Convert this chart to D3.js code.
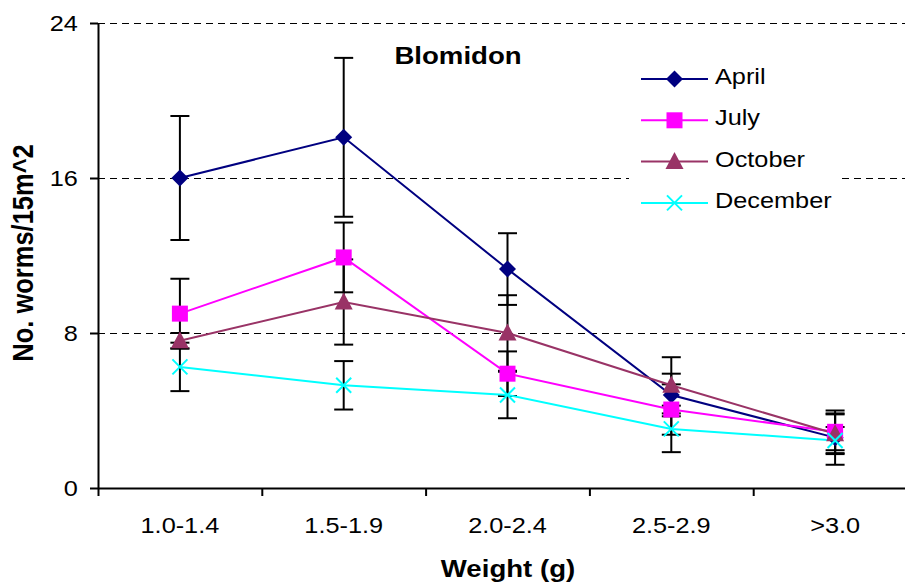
<!DOCTYPE html>
<html>
<head>
<meta charset="utf-8">
<script src="https://cdn.jsdelivr.net/npm/d3@7"></script>
<style>
  body { margin: 0; background: #fff; }
  svg { display: block; font-family: Arial, 'Liberation Sans', sans-serif; }
  .domain, .tick line { stroke: #000; stroke-width: 2; }
</style>
</head>
<body>
<svg width="905" height="588"></svg>
<script>
const svg = d3.select('svg');

const categories = ['1.0-1.4', '1.5-1.9', '2.0-2.4', '2.5-2.9', '>3.0'];
const yTicks = [0, 8, 16, 24];

const april = [16.0, 18.1, 11.3, 4.8, 2.6];
const aprilErr = [3.2, 4.1, 1.85, 1.1, 1.4];
const july = [9.0, 11.9, 5.9, 4.05, 2.9];
const julyErr = [1.8, 1.8, 1.15, 1.3, 0.95];
const october = [7.6, 9.6, 8.0, 5.3, 2.8];
const octoberErr = [0.4, 2.2, 1.95, 1.45, 1.0];
const december = [6.25, 5.3, 4.8, 3.05, 2.45];
const decemberErr = [1.25, 1.25, 1.2, 1.2, 0.7];

const series = [
  { name: 'April', values: april, err: aprilErr, color: '#000080', shape: 'diamond' },
  { name: 'July', values: july, err: julyErr, color: '#ff00ff', shape: 'square' },
  { name: 'October', values: october, err: octoberErr, color: '#993366', shape: 'triangle' },
  { name: 'December', values: december, err: decemberErr, color: '#00ffff', shape: 'cross' }
];

const plotLeft = 98, plotRight = 917, plotTop = 23, plotBottom = 488;
// the original text is a little wider than Arial, stretch it sideways
const stretch = 1.15;

const xScale = d3.scaleBand().domain(categories).range([plotLeft, plotRight]);
const xEdge = d3.scaleLinear().domain([0, categories.length]).range([plotLeft, plotRight]);
const yScale = d3.scaleLinear().domain([0, 24]).range([plotBottom, plotTop]);
const xc = i => xScale(categories[i]) + xScale.bandwidth() / 2;

// gridlines
svg.append('g').selectAll('line').data(yTicks.filter(d => d > 0)).enter().append('line')
  .attr('x1', plotLeft).attr('x2', plotRight)
  .attr('y1', d => yScale(d) + 0.5).attr('y2', d => yScale(d) + 0.5)
  .attr('stroke', '#000').attr('stroke-width', 1).attr('stroke-dasharray', '7,5')
  .attr('shape-rendering', 'crispEdges');

// y axis
const yAxisG = svg.append('g').attr('transform', `translate(${plotLeft},0)`)
  .call(d3.axisLeft(yScale).tickValues(yTicks).tickSize(8).tickPadding(9.5).tickSizeOuter(0));
yAxisG.selectAll('text').attr('font-size', 22).attr('fill', '#000')
  .attr('transform', `scale(${stretch},1)`);

// x axis: boundary ticks + centered labels
svg.append('g').attr('transform', `translate(0,${plotBottom})`)
  .call(d3.axisBottom(xEdge).tickValues(d3.range(categories.length + 1)).tickFormat('').tickSize(8).tickSizeOuter(0));
const xAxisG = svg.append('g').attr('transform', `translate(0,${plotBottom})`)
  .call(d3.axisBottom(xScale).tickSize(0).tickPadding(29));
xAxisG.select('.domain').remove();
xAxisG.selectAll('text').attr('font-size', 22).attr('fill', '#000')
  .attr('transform', `scale(${stretch},1)`);

// error bars
const capW = 9.5;
series.forEach(s => {
  const g = svg.append('g').attr('stroke', '#000').attr('stroke-width', 2);
  s.values.forEach((v, i) => {
    const x = xc(i), y1 = yScale(v + s.err[i]), y2 = yScale(v - s.err[i]);
    g.append('line').attr('x1', x).attr('x2', x).attr('y1', y1).attr('y2', y2);
    g.append('line').attr('x1', x - capW).attr('x2', x + capW).attr('y1', y1).attr('y2', y1);
    g.append('line').attr('x1', x - capW).attr('x2', x + capW).attr('y1', y2).attr('y2', y2);
  });
});

// lines
const line = d3.line().x((d, i) => xc(i)).y(d => yScale(d));
series.forEach(s => {
  svg.append('path').datum(s.values)
    .attr('fill', 'none').attr('stroke', s.color).attr('stroke-width', 2).attr('d', line);
});

const drawMarker = (g, shape, color, x, y) => {
  if (shape === 'diamond') {
    g.append('path').attr('d', `M${x},${y - 8.5}L${x + 8.5},${y}L${x},${y + 8.5}L${x - 8.5},${y}Z`).attr('fill', color);
  } else if (shape === 'square') {
    g.append('rect').attr('x', x - 8).attr('y', y - 8).attr('width', 16).attr('height', 16).attr('fill', color);
  } else if (shape === 'triangle') {
    g.append('path').attr('d', `M${x},${y - 9.5}L${x + 9},${y + 7.5}L${x - 9},${y + 7.5}Z`).attr('fill', color);
  } else {
    g.append('path').attr('d', `M${x - 7.5},${y - 7.5}L${x + 7.5},${y + 7.5}M${x - 7.5},${y + 7.5}L${x + 7.5},${y - 7.5}`)
      .attr('stroke', color).attr('stroke-width', 2).attr('fill', 'none');
  }
};

// markers
series.forEach(s => {
  const g = svg.append('g');
  s.values.forEach((v, i) => drawMarker(g, s.shape, s.color, xc(i), yScale(v)));
});

// legend
const legend = svg.append('g');
legend.append('rect').attr('x', 629).attr('y', 52).attr('width', 210).attr('height', 170).attr('fill', '#fff');
series.forEach((s, i) => {
  const y = 79 + i * 41.3;
  legend.append('line').attr('x1', 641).attr('x2', 708).attr('y1', y).attr('y2', y)
    .attr('stroke', s.color).attr('stroke-width', 2);
  drawMarker(legend, s.shape, s.color, 674.5, y);
  legend.append('text').attr('transform', `translate(715,${y + 5}) scale(${stretch},1)`)
    .attr('font-size', 22).text(s.name);
});

// titles
svg.append('text').attr('transform', `translate(458,64) scale(${stretch},1)`).attr('text-anchor', 'middle')
  .attr('font-size', 24).attr('font-weight', 'bold').text('Blomidon');
svg.append('text').attr('transform', `translate(508,577) scale(${stretch},1)`).attr('text-anchor', 'middle')
  .attr('font-size', 24).attr('font-weight', 'bold').text('Weight (g)');
svg.append('text').attr('transform', `translate(32.5,253) scale(${stretch},1) rotate(-90)`).attr('text-anchor', 'middle')
  .attr('font-size', 25.5).attr('font-weight', 'bold').text('No. worms/15m^2');
</script>
</body>
</html>
